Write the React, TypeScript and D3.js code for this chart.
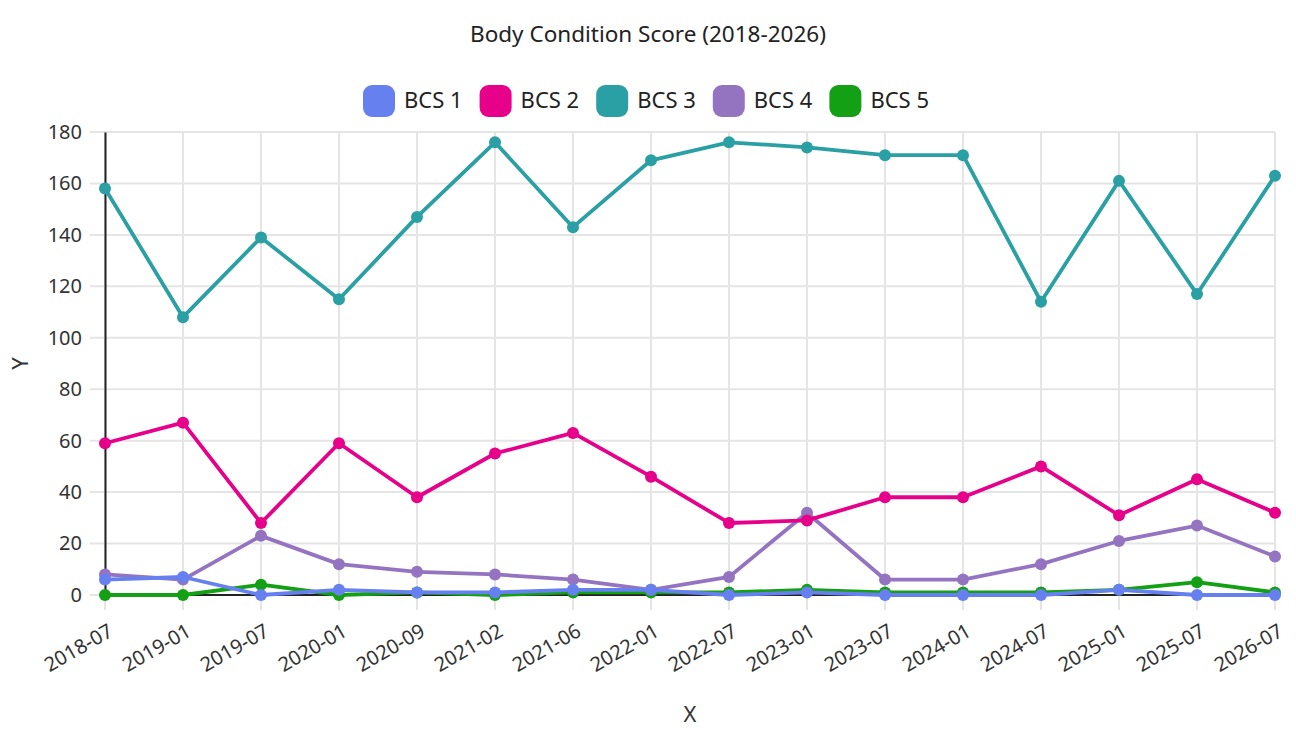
import { useEffect, useRef } from "react";
import * as d3 from "d3";

const categories = [
  "2018-07", "2019-01", "2019-07", "2020-01", "2020-09", "2021-02", "2021-06", "2022-01",
  "2022-07", "2023-01", "2023-07", "2024-01", "2024-07", "2025-01", "2025-07", "2026-07",
];

const bcs1 = [6, 7, 0, 2, 1, 1, 2, 2, 0, 1, 0, 0, 0, 2, 0, 0];
const bcs2 = [59, 67, 28, 59, 38, 55, 63, 46, 28, 29, 38, 38, 50, 31, 45, 32];
const bcs3 = [158, 108, 139, 115, 147, 176, 143, 169, 176, 174, 171, 171, 114, 161, 117, 163];
const bcs4 = [8, 6, 23, 12, 9, 8, 6, 2, 7, 32, 6, 6, 12, 21, 27, 15];
const bcs5 = [0, 0, 4, 0, 1, 0, 1, 1, 1, 2, 1, 1, 1, 2, 5, 1];

const seriesNames = ["BCS 1", "BCS 2", "BCS 3", "BCS 4", "BCS 5"];
const seriesValues = [bcs1, bcs2, bcs3, bcs4, bcs5];
const colors = ["#6680f0", "#e6008a", "#2aa0a4", "#9474c0", "#14a014"];
const yTicks = [0, 20, 40, 60, 80, 100, 120, 140, 160, 180];

const W = 1296;
const H = 736;
const FONT = "'Noto Sans', sans-serif";
const GRID = "#e5e5e5";

export default function App() {
  const ref = useRef<SVGSVGElement>(null);

  useEffect(() => {
    if (!ref.current) return;
    document.body.style.margin = "0";
    const svg = d3.select(ref.current);
    svg.selectAll("*").remove();

    const m = { top: 132, right: 21, bottom: 141, left: 105 };
    const x = d3.scalePoint<string>().domain(categories).range([m.left, W - m.right]);
    const y = d3.scaleLinear().domain([0, 180]).range([H - m.bottom, m.top]);

    // grid
    const grid = svg.append("g").attr("stroke", GRID).attr("stroke-width", 2);
    yTicks.forEach((t) => {
      grid.append("line").attr("x1", m.left - 15).attr("x2", W - m.right).attr("y1", y(t)).attr("y2", y(t));
    });
    categories.forEach((c) => {
      grid.append("line").attr("x1", x(c)!).attr("x2", x(c)!).attr("y1", m.top).attr("y2", y(0) + 15);
    });

    // y axis
    const yAxis = svg
      .append("g")
      .attr("transform", `translate(${m.left},0)`)
      .call(d3.axisLeft(y).tickValues(yTicks).tickSize(0).tickPadding(23));
    yAxis.select(".domain").attr("stroke", "#222").attr("stroke-width", 2);
    yAxis.selectAll("text").attr("font-family", FONT).attr("font-size", 20).attr("fill", "#333");

    // x axis
    const xAxis = svg
      .append("g")
      .attr("transform", `translate(0,${y(0)})`)
      .call(d3.axisBottom(x).tickSize(0));
    xAxis.select(".domain").attr("stroke", "#222").attr("stroke-width", 2).attr("d", `M${m.left},0H${W - m.right}`);
    xAxis
      .selectAll("text")
      .attr("font-family", FONT)
      .attr("font-size", 20)
      .attr("fill", "#333")
      .attr("text-anchor", "end")
      .attr("y", 0)
      .attr("dy", 0)
      .attr("transform", "translate(9,40) rotate(-30)");

    // lines (first series on top)
    const line = d3
      .line<number>()
      .x((_, i) => x(categories[i])!)
      .y((d) => y(d));
    for (let s = seriesValues.length - 1; s >= 0; s--) {
      const g = svg.append("g");
      g.append("path")
        .datum(seriesValues[s])
        .attr("d", line)
        .attr("fill", "none")
        .attr("stroke", colors[s])
        .attr("stroke-width", 3.8)
        .attr("stroke-linejoin", "round");
      g.selectAll("circle")
        .data(seriesValues[s])
        .join("circle")
        .attr("cx", (_, i) => x(categories[i])!)
        .attr("cy", (d) => y(d))
        .attr("r", 6)
        .attr("fill", colors[s]);
    }

    // title
    svg
      .append("text")
      .attr("x", 648)
      .attr("y", 42)
      .attr("text-anchor", "middle")
      .attr("font-family", FONT)
      .attr("font-size", 22.5)
      .attr("fill", "#222")
      .text("Body Condition Score (2018-2026)");

    // axis titles
    svg
      .append("text")
      .attr("x", 690)
      .attr("y", 722)
      .attr("text-anchor", "middle")
      .attr("font-family", FONT)
      .attr("font-size", 22)
      .attr("fill", "#333")
      .text("X");
    svg
      .append("text")
      .attr("transform", `translate(28,${(m.top + y(0)) / 2}) rotate(-90)`)
      .attr("text-anchor", "middle")
      .attr("font-family", FONT)
      .attr("font-size", 22)
      .attr("fill", "#333")
      .text("Y");

    // legend
    const legend = svg.append("g");
    let gx = 363;
    seriesNames.forEach((name, i) => {
      legend
        .append("rect")
        .attr("x", gx)
        .attr("y", 85)
        .attr("width", 32)
        .attr("height", 32)
        .attr("rx", 9)
        .attr("fill", colors[i]);
      const t = legend
        .append("text")
        .attr("x", gx + 41)
        .attr("y", 108)
        .attr("font-family", FONT)
        .attr("font-size", 22)
        .attr("fill", "#222")
        .text(name);
      const tw = (t.node() as SVGTextElement).getComputedTextLength();
      gx += 41 + tw + 17;
    });
  }, []);

  return (
    <svg
      ref={ref}
      width={W}
      height={H}
      style={{ position: "absolute", left: 0, top: 0, background: "#fff" }}
    />
  );
}
